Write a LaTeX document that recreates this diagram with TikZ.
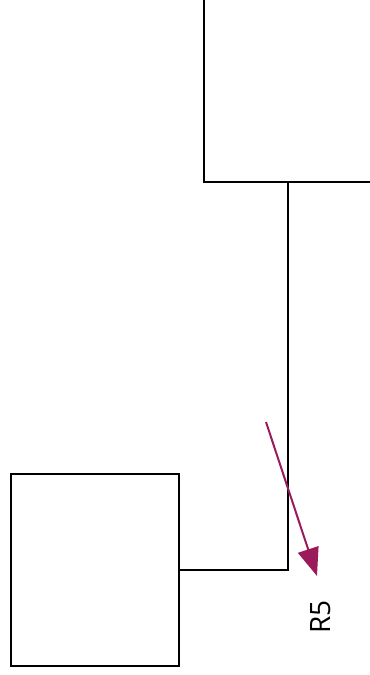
\documentclass[tikz,border=0pt]{standalone}
\usepackage{fontspec}
\setmainfont{Open Sans}
\usetikzlibrary{arrows.meta}
\definecolor{arrowc}{HTML}{9B1B5A}
\tikzset{
  boxst/.style={draw=black, line width=1.8pt, inner sep=0pt, fill=white},
  wire/.style={draw=black, line width=1.8pt},
  parrow/.style={draw=arrowc, line width=1.5pt, -{Triangle[length=21pt,width=16pt,fill=arrowc]}},
  lbl/.style={font=\fontsize{21}{24}\selectfont, rotate=90, inner sep=0pt}
}
\begin{document}
\begin{tikzpicture}[x=0.75pt,y=-0.75pt]
\useasboundingbox (0,0) rectangle (370,675);
\begin{scope}
\clip (0,0) rectangle (370,675);
\node[boxst, minimum width=176*0.75pt, minimum height=202*0.75pt] (top) at (292,81) {};
\end{scope}
\node[boxst, minimum width=168*0.75pt, minimum height=192*0.75pt] (bot) at (95,570) {};
\coordinate (j) at (288,570);
\coordinate (jt) at (288,182);
\draw[wire] (jt) -- (j) -- (bot.east);
\coordinate (a1) at (266,422);
\coordinate (a2) at (317,576);
\draw[parrow] (a1) -- (a2);
\node[lbl] (r5) at (321,617) {R5};
\end{tikzpicture}
\end{document}
